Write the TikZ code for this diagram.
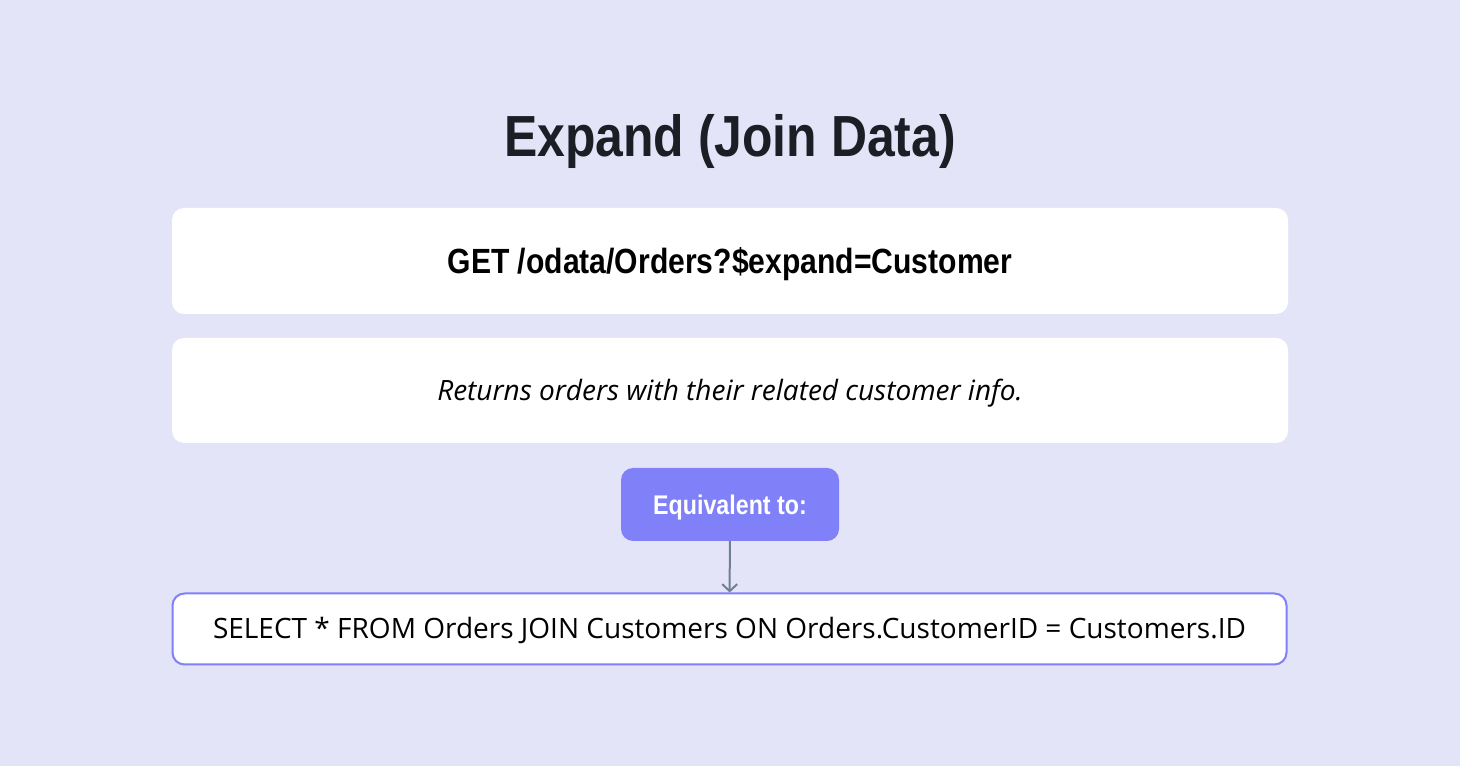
\documentclass[tikz,border=0pt]{standalone}
\usepackage{fontspec}
\setmainfont{Open Sans}
\newfontfamily\condfont[FakeStretch=0.86]{Liberation Sans}
\usetikzlibrary{arrows.meta}
\definecolor{bgcol}{RGB}{228,228,248}
\definecolor{purp}{RGB}{128,128,248}
\definecolor{titlecol}{RGB}{28,30,38}
\definecolor{arrowcol}{RGB}{112,128,144}

\begin{document}
\begin{tikzpicture}[x=1pt, y=1pt,
  box/.style={fill=white, rounded corners=12pt, minimum width=1116pt, inner sep=0pt,
    text height=20pt, text depth=0pt},
  equiv/.style={fill=purp, rounded corners=12pt, minimum width=218pt, minimum height=73pt, inner sep=0pt,
    text height=19.3pt, text depth=0pt,
    text=white, font=\condfont\bfseries\fontsize{27}{32}\selectfont},
]
\fill[bgcol] (0,0) rectangle (1460,766);
\node[anchor=base, text=titlecol, font=\condfont\bfseries\fontsize{58}{66}\selectfont] (title) at (730,609) {Expand (Join Data)};
\node[box, minimum height=106pt, text height=25pt, font=\condfont\bfseries\fontsize{35}{40}\selectfont] (get) at (730,505) {GET /odata/Orders?\$expand=Customer};
\node[box, minimum height=105pt, font=\itshape\fontsize{28}{32}\selectfont] (desc) at (730,375.5) {Returns orders with their related customer info.};
\node[equiv] (eq) at (730,261.5) {Equivalent to:};
\node[box, draw=purp, line width=2pt, minimum width=1114pt, minimum height=71pt, font=\fontsize{28}{32}\selectfont] (sql) at (729.5,137) {SELECT * FROM Orders JOIN Customers ON Orders.CustomerID = Customers.ID};
\draw[arrowcol, line width=2pt, -{Straight Barb[length=7pt,width=15pt]}] (eq) -- (sql);
\end{tikzpicture}
\end{document}
